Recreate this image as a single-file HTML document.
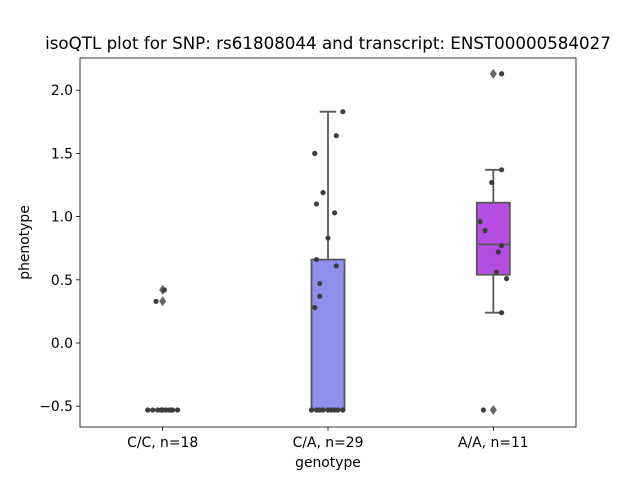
<!DOCTYPE html>
<html><head><meta charset="utf-8"><style>
html,body{margin:0;padding:0;background:#fff;width:640px;height:480px;overflow:hidden}
svg text{font-family:"DejaVu Sans","Liberation Sans",sans-serif;fill:#000}
</style></head><body>
<svg id="chart" width="640" height="480" xmlns="http://www.w3.org/2000/svg"></svg>
<script>
const categories = ["C/C, n=18", "C/A, n=29", "A/A, n=11"];
const boxColors = ["#8f8fee", "#8f8fee", "#b54de3"];
const boxQ1 = [-0.53, -0.53, 0.54];
const boxMedian = [-0.53, -0.53, 0.78];
const boxQ3 = [-0.53, 0.66, 1.11];
const whiskerLow = [-0.53, -0.53, 0.24];
const whiskerHigh = [-0.53, 1.83, 1.37];
const fliers = [[0.42, 0.33], [], [2.13, -0.53]];
const points = [
  [[0.01,0.42],[-0.04,0.33],[-0.09,-0.53],[-0.06,-0.53],[-0.03,-0.53],[0,-0.53],[0.02,-0.53],[0.04,-0.53],[0.06,-0.53],[0.09,-0.53],[-0.01,-0.53],[0.05,-0.53]],
  [[0.09,1.83],[0.05,1.64],[-0.08,1.50],[-0.03,1.19],[-0.07,1.10],[0.04,1.03],[0,0.83],[-0.07,0.66],[0.05,0.61],[-0.05,0.47],[-0.05,0.37],[-0.08,0.28],
   [-0.1,-0.53],[-0.07,-0.53],[-0.05,-0.53],[-0.03,-0.53],[0,-0.53],[0.02,-0.53],[0.04,-0.53],[0.06,-0.53],[0.09,-0.53]],
  [[0.05,2.13],[0.05,1.37],[-0.01,1.27],[-0.08,0.96],[-0.05,0.89],[0.05,0.77],[0.03,0.72],[0.02,0.56],[0.08,0.51],[0.05,0.24],[-0.06,-0.53]]
];
const yTicks = [-0.5, 0.0, 0.5, 1.0, 1.5, 2.0];
const yTickLabels = ["−0.5", "0.0", "0.5", "1.0", "1.5", "2.0"];

const svg = document.getElementById('chart');
const NS = "http://www.w3.org/2000/svg";
const L = 80, R = 576, T = 58, B = 427;
function yScale(v){ return 343 - 126.4 * v; }
function xScale(i){ return L + (R - L) * (i + 0.5) / categories.length; }
const catW = (R - L) / categories.length;
function mk(tag, attrs, name){
  const e = document.createElementNS(NS, tag);
  for (const k in attrs) e.setAttribute(k, attrs[k]);
  
  
  svg.appendChild(e);
  return e;
}
function txt(s, attrs, name){ const e = mk('text', attrs, name); e.textContent = s; return e; }

const GR = "#3d3d3d", LN = "#595959";
categories.forEach((c, i) => {
  const cx = xScale(i), bw = catW * 0.2;
  mk('line', {x1:cx, x2:cx, y1:yScale(whiskerHigh[i]), y2:yScale(boxQ3[i]), stroke:LN, 'stroke-width':1.8}, 'whisker-upper');
  mk('line', {x1:cx, x2:cx, y1:yScale(boxQ1[i]), y2:yScale(whiskerLow[i]), stroke:LN, 'stroke-width':1.8}, 'whisker-lower');
  mk('line', {x1:cx-bw/4, x2:cx+bw/4, y1:yScale(whiskerHigh[i]), y2:yScale(whiskerHigh[i]), stroke:LN, 'stroke-width':1.8}, 'whisker-cap-upper');
  mk('line', {x1:cx-bw/4, x2:cx+bw/4, y1:yScale(whiskerLow[i]), y2:yScale(whiskerLow[i]), stroke:LN, 'stroke-width':1.8}, 'whisker-cap-lower');
  mk('rect', {x:cx-bw/2, y:yScale(boxQ3[i]), width:bw, height:Math.max(0.1, yScale(boxQ1[i])-yScale(boxQ3[i])), fill:boxColors[i], stroke:LN, 'stroke-width':1.8}, 'box-' + i);
  mk('line', {x1:cx-bw/2, x2:cx+bw/2, y1:yScale(boxMedian[i]), y2:yScale(boxMedian[i]), stroke:LN, 'stroke-width':1.8}, 'median-line');
  fliers[i].forEach(v => {
    const y = yScale(v);
    mk('polygon', {points:`${cx},${y-5} ${cx+3.5},${y} ${cx},${y+5} ${cx-3.5},${y}`, fill:"#666"}, 'flier');
  });
  points[i].forEach(p => {
    mk('circle', {cx:cx + p[0]*catW, cy:yScale(p[1]), r:2.6, fill:GR}, 'data-point');
  });
  mk('line', {x1:cx, x2:cx, y1:B, y2:B+4, stroke:'#000', 'stroke-width':0.8}, 'x-tick');
  txt(c, {x:cx, y:B+20, 'font-size':13.9, 'text-anchor':'middle'}, 'x-tick-label');
});
yTicks.forEach((v, k) => {
  const y = yScale(v);
  mk('line', {x1:L-4, x2:L, y1:y, y2:y, stroke:'#000', 'stroke-width':0.8}, 'y-tick');
  txt(yTickLabels[k], {x:L-7, y:y+5, 'font-size':13.9, 'text-anchor':'end'}, 'y-tick-label');
});
mk('rect', {x:L, y:T, width:R-L, height:B-T, fill:'none', stroke:'#000', 'stroke-width':0.8}, 'plot-frame');
txt('genotype', {x:(L+R)/2, y:467, 'font-size':13.9, 'text-anchor':'middle'}, 'x-axis-title');
txt('phenotype', {x:0, y:0, 'font-size':13.9, 'text-anchor':'middle', transform:`translate(29,${(T+B)/2}) rotate(-90)`}, 'y-axis-title');
txt('isoQTL plot for SNP: rs61808044 and transcript: ENST00000584027', {x:328, y:49, 'font-size':16.7, 'text-anchor':'middle'}, 'chart-title');
</script>
</body></html>
